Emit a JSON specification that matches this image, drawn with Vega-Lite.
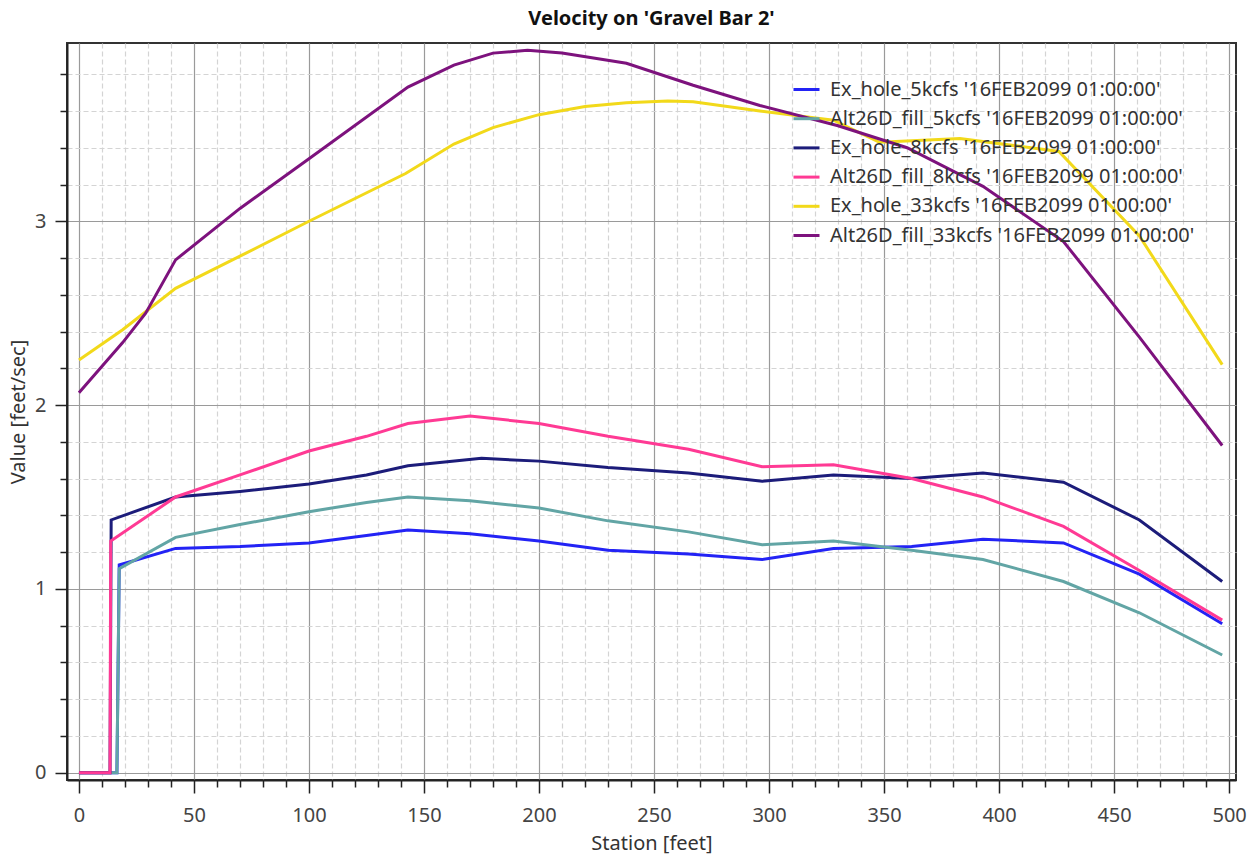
{
  "$schema": "https://vega.github.io/schema/vega-lite/v6.json",
  "autosize": {"type": "none"},
  "padding": {"left": 67, "top": 43, "right": 21, "bottom": 84},
  "width": 1169,
  "height": 737,
  "background": "white",
  "title": {"text": "Velocity on 'Gravel Bar 2'", "font": "Noto Sans", "fontSize": 20, "fontWeight": "bold", "color": "#111", "anchor": "middle", "offset": 14},
  "config": {
    "view": {"stroke": "#333", "strokeWidth": 2},
    "font": "Noto Sans"
  },
  "data": {"values": [
    {"s": "Ex_hole_5kcfs '16FEB2099 01:00:00'", "x": 0, "v": 0},
    {"s": "Ex_hole_5kcfs '16FEB2099 01:00:00'", "x": 16.5, "v": 0},
    {"s": "Ex_hole_5kcfs '16FEB2099 01:00:00'", "x": 17.5, "v": 1.13},
    {"s": "Ex_hole_5kcfs '16FEB2099 01:00:00'", "x": 42, "v": 1.22},
    {"s": "Ex_hole_5kcfs '16FEB2099 01:00:00'", "x": 70, "v": 1.23},
    {"s": "Ex_hole_5kcfs '16FEB2099 01:00:00'", "x": 100, "v": 1.25},
    {"s": "Ex_hole_5kcfs '16FEB2099 01:00:00'", "x": 125, "v": 1.29},
    {"s": "Ex_hole_5kcfs '16FEB2099 01:00:00'", "x": 143, "v": 1.32},
    {"s": "Ex_hole_5kcfs '16FEB2099 01:00:00'", "x": 170, "v": 1.30},
    {"s": "Ex_hole_5kcfs '16FEB2099 01:00:00'", "x": 200, "v": 1.26},
    {"s": "Ex_hole_5kcfs '16FEB2099 01:00:00'", "x": 230, "v": 1.21},
    {"s": "Ex_hole_5kcfs '16FEB2099 01:00:00'", "x": 265, "v": 1.19},
    {"s": "Ex_hole_5kcfs '16FEB2099 01:00:00'", "x": 297, "v": 1.16},
    {"s": "Ex_hole_5kcfs '16FEB2099 01:00:00'", "x": 328, "v": 1.22},
    {"s": "Ex_hole_5kcfs '16FEB2099 01:00:00'", "x": 362, "v": 1.23},
    {"s": "Ex_hole_5kcfs '16FEB2099 01:00:00'", "x": 393, "v": 1.27},
    {"s": "Ex_hole_5kcfs '16FEB2099 01:00:00'", "x": 428, "v": 1.25},
    {"s": "Ex_hole_5kcfs '16FEB2099 01:00:00'", "x": 461, "v": 1.08},
    {"s": "Ex_hole_5kcfs '16FEB2099 01:00:00'", "x": 497, "v": 0.81},

    {"s": "Alt26D_fill_5kcfs '16FEB2099 01:00:00'", "x": 0, "v": 0},
    {"s": "Alt26D_fill_5kcfs '16FEB2099 01:00:00'", "x": 16.5, "v": 0},
    {"s": "Alt26D_fill_5kcfs '16FEB2099 01:00:00'", "x": 17.5, "v": 1.11},
    {"s": "Alt26D_fill_5kcfs '16FEB2099 01:00:00'", "x": 42, "v": 1.28},
    {"s": "Alt26D_fill_5kcfs '16FEB2099 01:00:00'", "x": 70, "v": 1.35},
    {"s": "Alt26D_fill_5kcfs '16FEB2099 01:00:00'", "x": 100, "v": 1.42},
    {"s": "Alt26D_fill_5kcfs '16FEB2099 01:00:00'", "x": 125, "v": 1.47},
    {"s": "Alt26D_fill_5kcfs '16FEB2099 01:00:00'", "x": 143, "v": 1.50},
    {"s": "Alt26D_fill_5kcfs '16FEB2099 01:00:00'", "x": 170, "v": 1.48},
    {"s": "Alt26D_fill_5kcfs '16FEB2099 01:00:00'", "x": 200, "v": 1.44},
    {"s": "Alt26D_fill_5kcfs '16FEB2099 01:00:00'", "x": 230, "v": 1.37},
    {"s": "Alt26D_fill_5kcfs '16FEB2099 01:00:00'", "x": 265, "v": 1.31},
    {"s": "Alt26D_fill_5kcfs '16FEB2099 01:00:00'", "x": 297, "v": 1.24},
    {"s": "Alt26D_fill_5kcfs '16FEB2099 01:00:00'", "x": 328, "v": 1.26},
    {"s": "Alt26D_fill_5kcfs '16FEB2099 01:00:00'", "x": 362, "v": 1.21},
    {"s": "Alt26D_fill_5kcfs '16FEB2099 01:00:00'", "x": 393, "v": 1.16},
    {"s": "Alt26D_fill_5kcfs '16FEB2099 01:00:00'", "x": 428, "v": 1.04},
    {"s": "Alt26D_fill_5kcfs '16FEB2099 01:00:00'", "x": 461, "v": 0.87},
    {"s": "Alt26D_fill_5kcfs '16FEB2099 01:00:00'", "x": 497, "v": 0.64},

    {"s": "Ex_hole_8kcfs '16FEB2099 01:00:00'", "x": 0, "v": 0},
    {"s": "Ex_hole_8kcfs '16FEB2099 01:00:00'", "x": 13.5, "v": 0},
    {"s": "Ex_hole_8kcfs '16FEB2099 01:00:00'", "x": 14, "v": 1.375},
    {"s": "Ex_hole_8kcfs '16FEB2099 01:00:00'", "x": 42, "v": 1.50},
    {"s": "Ex_hole_8kcfs '16FEB2099 01:00:00'", "x": 70, "v": 1.53},
    {"s": "Ex_hole_8kcfs '16FEB2099 01:00:00'", "x": 100, "v": 1.57},
    {"s": "Ex_hole_8kcfs '16FEB2099 01:00:00'", "x": 125, "v": 1.62},
    {"s": "Ex_hole_8kcfs '16FEB2099 01:00:00'", "x": 143, "v": 1.67},
    {"s": "Ex_hole_8kcfs '16FEB2099 01:00:00'", "x": 175, "v": 1.71},
    {"s": "Ex_hole_8kcfs '16FEB2099 01:00:00'", "x": 200, "v": 1.695},
    {"s": "Ex_hole_8kcfs '16FEB2099 01:00:00'", "x": 230, "v": 1.66},
    {"s": "Ex_hole_8kcfs '16FEB2099 01:00:00'", "x": 265, "v": 1.63},
    {"s": "Ex_hole_8kcfs '16FEB2099 01:00:00'", "x": 297, "v": 1.585},
    {"s": "Ex_hole_8kcfs '16FEB2099 01:00:00'", "x": 328, "v": 1.62},
    {"s": "Ex_hole_8kcfs '16FEB2099 01:00:00'", "x": 362, "v": 1.60},
    {"s": "Ex_hole_8kcfs '16FEB2099 01:00:00'", "x": 393, "v": 1.63},
    {"s": "Ex_hole_8kcfs '16FEB2099 01:00:00'", "x": 428, "v": 1.58},
    {"s": "Ex_hole_8kcfs '16FEB2099 01:00:00'", "x": 461, "v": 1.375},
    {"s": "Ex_hole_8kcfs '16FEB2099 01:00:00'", "x": 497, "v": 1.04},

    {"s": "Alt26D_fill_8kcfs '16FEB2099 01:00:00'", "x": 0, "v": 0},
    {"s": "Alt26D_fill_8kcfs '16FEB2099 01:00:00'", "x": 13.5, "v": 0},
    {"s": "Alt26D_fill_8kcfs '16FEB2099 01:00:00'", "x": 13.8, "v": 1.26},
    {"s": "Alt26D_fill_8kcfs '16FEB2099 01:00:00'", "x": 42, "v": 1.50},
    {"s": "Alt26D_fill_8kcfs '16FEB2099 01:00:00'", "x": 70, "v": 1.62},
    {"s": "Alt26D_fill_8kcfs '16FEB2099 01:00:00'", "x": 100, "v": 1.75},
    {"s": "Alt26D_fill_8kcfs '16FEB2099 01:00:00'", "x": 125, "v": 1.83},
    {"s": "Alt26D_fill_8kcfs '16FEB2099 01:00:00'", "x": 143, "v": 1.90},
    {"s": "Alt26D_fill_8kcfs '16FEB2099 01:00:00'", "x": 170, "v": 1.94},
    {"s": "Alt26D_fill_8kcfs '16FEB2099 01:00:00'", "x": 200, "v": 1.90},
    {"s": "Alt26D_fill_8kcfs '16FEB2099 01:00:00'", "x": 230, "v": 1.83},
    {"s": "Alt26D_fill_8kcfs '16FEB2099 01:00:00'", "x": 265, "v": 1.76},
    {"s": "Alt26D_fill_8kcfs '16FEB2099 01:00:00'", "x": 297, "v": 1.665},
    {"s": "Alt26D_fill_8kcfs '16FEB2099 01:00:00'", "x": 328, "v": 1.675},
    {"s": "Alt26D_fill_8kcfs '16FEB2099 01:00:00'", "x": 362, "v": 1.60},
    {"s": "Alt26D_fill_8kcfs '16FEB2099 01:00:00'", "x": 393, "v": 1.50},
    {"s": "Alt26D_fill_8kcfs '16FEB2099 01:00:00'", "x": 428, "v": 1.34},
    {"s": "Alt26D_fill_8kcfs '16FEB2099 01:00:00'", "x": 461, "v": 1.10},
    {"s": "Alt26D_fill_8kcfs '16FEB2099 01:00:00'", "x": 497, "v": 0.83},

    {"s": "Ex_hole_33kcfs '16FEB2099 01:00:00'", "x": 0, "v": 2.245},
    {"s": "Ex_hole_33kcfs '16FEB2099 01:00:00'", "x": 19, "v": 2.41},
    {"s": "Ex_hole_33kcfs '16FEB2099 01:00:00'", "x": 42, "v": 2.635},
    {"s": "Ex_hole_33kcfs '16FEB2099 01:00:00'", "x": 70, "v": 2.81},
    {"s": "Ex_hole_33kcfs '16FEB2099 01:00:00'", "x": 100, "v": 3.00},
    {"s": "Ex_hole_33kcfs '16FEB2099 01:00:00'", "x": 142, "v": 3.26},
    {"s": "Ex_hole_33kcfs '16FEB2099 01:00:00'", "x": 163, "v": 3.42},
    {"s": "Ex_hole_33kcfs '16FEB2099 01:00:00'", "x": 180, "v": 3.51},
    {"s": "Ex_hole_33kcfs '16FEB2099 01:00:00'", "x": 200, "v": 3.58},
    {"s": "Ex_hole_33kcfs '16FEB2099 01:00:00'", "x": 220, "v": 3.625},
    {"s": "Ex_hole_33kcfs '16FEB2099 01:00:00'", "x": 238, "v": 3.645},
    {"s": "Ex_hole_33kcfs '16FEB2099 01:00:00'", "x": 256, "v": 3.655},
    {"s": "Ex_hole_33kcfs '16FEB2099 01:00:00'", "x": 267, "v": 3.65},
    {"s": "Ex_hole_33kcfs '16FEB2099 01:00:00'", "x": 296, "v": 3.60},
    {"s": "Ex_hole_33kcfs '16FEB2099 01:00:00'", "x": 328, "v": 3.55},
    {"s": "Ex_hole_33kcfs '16FEB2099 01:00:00'", "x": 348, "v": 3.43},
    {"s": "Ex_hole_33kcfs '16FEB2099 01:00:00'", "x": 383, "v": 3.45},
    {"s": "Ex_hole_33kcfs '16FEB2099 01:00:00'", "x": 426, "v": 3.38},
    {"s": "Ex_hole_33kcfs '16FEB2099 01:00:00'", "x": 461, "v": 2.92},
    {"s": "Ex_hole_33kcfs '16FEB2099 01:00:00'", "x": 497, "v": 2.22},

    {"s": "Alt26D_fill_33kcfs '16FEB2099 01:00:00'", "x": 0, "v": 2.067},
    {"s": "Alt26D_fill_33kcfs '16FEB2099 01:00:00'", "x": 19, "v": 2.34},
    {"s": "Alt26D_fill_33kcfs '16FEB2099 01:00:00'", "x": 29, "v": 2.50},
    {"s": "Alt26D_fill_33kcfs '16FEB2099 01:00:00'", "x": 42, "v": 2.79},
    {"s": "Alt26D_fill_33kcfs '16FEB2099 01:00:00'", "x": 70, "v": 3.07},
    {"s": "Alt26D_fill_33kcfs '16FEB2099 01:00:00'", "x": 100, "v": 3.34},
    {"s": "Alt26D_fill_33kcfs '16FEB2099 01:00:00'", "x": 143, "v": 3.73},
    {"s": "Alt26D_fill_33kcfs '16FEB2099 01:00:00'", "x": 163, "v": 3.85},
    {"s": "Alt26D_fill_33kcfs '16FEB2099 01:00:00'", "x": 180, "v": 3.915},
    {"s": "Alt26D_fill_33kcfs '16FEB2099 01:00:00'", "x": 195, "v": 3.93},
    {"s": "Alt26D_fill_33kcfs '16FEB2099 01:00:00'", "x": 210, "v": 3.915},
    {"s": "Alt26D_fill_33kcfs '16FEB2099 01:00:00'", "x": 238, "v": 3.86},
    {"s": "Alt26D_fill_33kcfs '16FEB2099 01:00:00'", "x": 267, "v": 3.74},
    {"s": "Alt26D_fill_33kcfs '16FEB2099 01:00:00'", "x": 296, "v": 3.63},
    {"s": "Alt26D_fill_33kcfs '16FEB2099 01:00:00'", "x": 330, "v": 3.52},
    {"s": "Alt26D_fill_33kcfs '16FEB2099 01:00:00'", "x": 360, "v": 3.40},
    {"s": "Alt26D_fill_33kcfs '16FEB2099 01:00:00'", "x": 393, "v": 3.19},
    {"s": "Alt26D_fill_33kcfs '16FEB2099 01:00:00'", "x": 428, "v": 2.89},
    {"s": "Alt26D_fill_33kcfs '16FEB2099 01:00:00'", "x": 461, "v": 2.37},
    {"s": "Alt26D_fill_33kcfs '16FEB2099 01:00:00'", "x": 497, "v": 1.78}
  ]},
  "mark": {"type": "line", "strokeWidth": 3, "interpolate": "linear"},
  "encoding": {
    "x": {
      "field": "x", "type": "quantitative",
      "scale": {"domain": [-5.2, 503], "nice": false, "zero": false},
      "axis": {
        "title": "Station [feet]",
        "titleFont": "Noto Sans", "titleFontSize": 20, "titleFontWeight": "normal", "titleColor": "#333", "titlePadding": 8,
        "values": [0,10,20,30,40,50,60,70,80,90,100,110,120,130,140,150,160,170,180,190,200,210,220,230,240,250,260,270,280,290,300,310,320,330,340,350,360,370,380,390,400,410,420,430,440,450,460,470,480,490,500],
        "labelExpr": "datum.value % 50 === 0 ? datum.label : ''",
        "labelFont": "Noto Sans", "labelFontSize": 20, "labelColor": "#444", "labelPadding": 12,
        "labelOverlap": false, "labelFlush": false,
        "domainColor": "#222", "domainWidth": 2,
        "tickColor": "#222", "tickWidth": 1.5,
        "tickSize": {"condition": {"test": "datum.value % 50 === 0", "value": 13}, "value": 7},
        "grid": true,
        "gridColor": {"condition": {"test": "datum.value % 50 === 0", "value": "#9a9a9a"}, "value": "#d4d4d4"},
        "gridDash": {"condition": {"test": "datum.value % 50 === 0", "value": []}, "value": [5, 3]},
        "gridWidth": 1.2
      }
    },
    "y": {
      "field": "v", "type": "quantitative",
      "scale": {"domain": [-0.04, 3.97], "nice": false, "zero": false},
      "axis": {
        "title": "Value [feet/sec]",
        "titleFont": "Noto Sans", "titleFontSize": 20, "titleFontWeight": "normal", "titleColor": "#333",
        "titleX": -39,
        "values": [0,0.2,0.4,0.6,0.8,1,1.2,1.4,1.6,1.8,2,2.2,2.4,2.6,2.8,3,3.2,3.4,3.6,3.8],
        "format": "~g",
        "labelExpr": "abs(datum.value - round(datum.value)) < 0.001 ? datum.label : ''",
        "labelFont": "Noto Sans", "labelFontSize": 20, "labelColor": "#444", "labelPadding": 9,
        "labelOverlap": false, "labelFlush": false,
        "domainColor": "#222", "domainWidth": 2,
        "tickColor": "#222", "tickWidth": 1.5,
        "tickSize": {"condition": {"test": "abs(datum.value - round(datum.value)) < 0.001", "value": 12}, "value": 7},
        "grid": true,
        "gridColor": {"condition": {"test": "abs(datum.value - round(datum.value)) < 0.001", "value": "#9a9a9a"}, "value": "#d4d4d4"},
        "gridDash": {"condition": {"test": "abs(datum.value - round(datum.value)) < 0.001", "value": []}, "value": [5, 3]},
        "gridWidth": 1.2
      }
    },
    "color": {
      "field": "s", "type": "nominal",
      "scale": {
        "domain": ["Ex_hole_5kcfs '16FEB2099 01:00:00'", "Alt26D_fill_5kcfs '16FEB2099 01:00:00'", "Ex_hole_8kcfs '16FEB2099 01:00:00'", "Alt26D_fill_8kcfs '16FEB2099 01:00:00'", "Ex_hole_33kcfs '16FEB2099 01:00:00'", "Alt26D_fill_33kcfs '16FEB2099 01:00:00'"],
        "range": ["#2323f5", "#62a5a5", "#1c1c7a", "#ff3a94", "#f2d91a", "#7d127d"]
      },
      "legend": {
        "title": null,
        "orient": "none",
        "legendX": 725,
        "legendY": 32,
        "symbolType": "stroke",
        "symbolSize": 676,
        "symbolStrokeWidth": 3,
        "labelFont": "Noto Sans",
        "labelFontSize": 20,
        "labelColor": "#333",
        "labelLimit": 600,
        "labelOffset": 9,
        "rowPadding": 4.2
      }
    }
  }
}
